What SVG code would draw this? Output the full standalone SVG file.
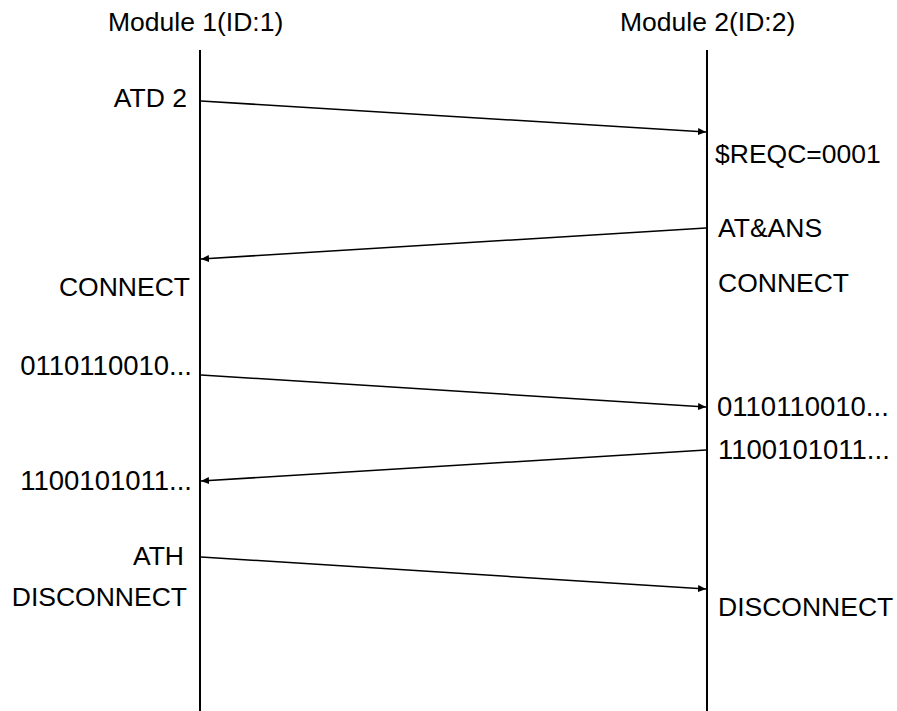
<svg xmlns="http://www.w3.org/2000/svg" width="897" height="711" viewBox="0 0 897 711">
<style>
text{font-family:"Liberation Sans",Arial,sans-serif;font-size:26.5px;fill:#000}
.l{text-anchor:end}
.d{font-size:27.5px}
.life{stroke:#000;stroke-width:2;fill:none}
.msg{stroke:#000;stroke-width:1.5;fill:none;marker-end:url(#ah)}
</style>
<defs>
<marker id="ah" markerWidth="8" markerHeight="8" refX="8" refY="4" orient="auto" markerUnits="userSpaceOnUse">
<path d="M0,0.5 L8,4 L0,7.5 Z" fill="#000"/>
</marker>
</defs>
<rect width="897" height="711" fill="#fff"/>
<g id="module1">
<text x="108" y="31">Module 1(ID:1)</text>
<line class="life" x1="200" y1="50" x2="200" y2="711"/>
</g>
<g id="module2">
<text x="620" y="31">Module 2(ID:2)</text>
<line class="life" x1="707" y1="50" x2="707" y2="711"/>
</g>
<g id="connectors">
<line class="msg" x1="201" y1="101" x2="706" y2="132"/>
<line class="msg" x1="706" y1="228" x2="201" y2="259"/>
<line class="msg" x1="201" y1="375" x2="706" y2="407"/>
<line class="msg" x1="706" y1="450" x2="201" y2="481"/>
<line class="msg" x1="201" y1="557" x2="706" y2="589"/>
</g>
<g id="labels">
<text class="l" x="187" y="107">ATD 2</text>
<text x="715" y="163">$REQC=0001</text>
<text x="718" y="237">AT&amp;ANS</text>
<text class="l" x="190" y="296">CONNECT</text>
<text x="718" y="292">CONNECT</text>
<text class="l d" x="192" y="375">0110110010...</text>
<text class="d" x="717" y="416">0110110010...</text>
<text class="d" x="718" y="459">1100101011...</text>
<text class="l d" x="192" y="490">1100101011...</text>
<text class="l" x="184" y="565">ATH</text>
<text class="l" x="187" y="606">DISCONNECT</text>
<text x="718" y="616">DISCONNECT</text>
</g>
</svg>
